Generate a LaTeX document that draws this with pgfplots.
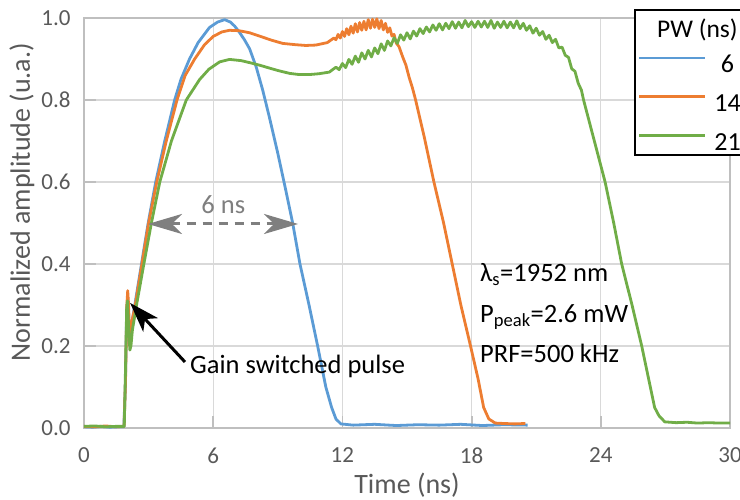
\documentclass[border=0pt]{standalone}
\usepackage{fontspec}
\setmainfont{Carlito}
\usepackage{pgfplots}
\pgfplotsset{compat=1.18}
\usetikzlibrary{arrows.meta}
\definecolor{cblue}{HTML}{5B9BD5}
\definecolor{corange}{HTML}{ED7D31}
\definecolor{cgreen}{HTML}{70AD47}
\definecolor{axgray}{HTML}{BFBFBF}
\definecolor{gridgray}{HTML}{D9D9D9}
\definecolor{txtgray}{HTML}{595959}
\definecolor{anngray}{HTML}{7F7F7F}
\begin{document}
\begin{tikzpicture}
\begin{axis}[
  at={(84bp,72bp)}, anchor=south west,
  scale only axis, width=646bp, height=410bp,
  xmin=0, xmax=30, ymin=0, ymax=1,
  clip=false,
  xtick={0,6,12,18,24,30},
  ytick={0,0.2,0.4,0.6,0.8,1},
  /pgf/number format/assume math mode=true,
  yticklabel style={/pgf/number format/fixed, /pgf/number format/fixed zerofill, /pgf/number format/precision=1, xshift=-10bp},
  tick label style={font=\fontsize{23bp}{26bp}\selectfont, text=txtgray},
  xticklabel style={yshift=-16bp},
  tick align=inside, tick pos=left,
  major tick length=12bp,
  every tick/.style={axgray, line width=1.8bp},
  axis line style={axgray, line width=1.8bp},
  grid=major,
  grid style={gridgray, line width=1.3bp},
  xlabel={Time (ns)}, ylabel={Normalized amplitude (u.a.)},
  every axis x label/.style={at={(axis description cs:0.5,-0.139)}, anchor=center,
    font=\fontsize{28bp}{30bp}\selectfont, text=txtgray},
  every axis y label/.style={at={(axis description cs:-0.096,0.551)}, rotate=90, anchor=center,
    font=\fontsize{28bp}{30bp}\selectfont, text=txtgray},
  legend image code/.code={\draw[#1] (0bp,7.5bp) -- (66bp,7.5bp);},
  legend cell align=center,
  legend style={at={(axis cs:25.73,0.906)}, anchor=north west, draw=none, fill=none,
    inner sep=0pt, outer sep=0pt, row sep=22.5bp, column sep=7.5bp,
    font=\fontsize{26bp}{28bp}\selectfont,
    nodes={inner sep=0pt, text height=15bp, text depth=0pt}},
]
\addplot[cblue, line width=2.8bp, line join=round] coordinates {
(0,0.003)(0.4,0.002)(0.8,0.004)(1.2,0.002)(1.6,0.003)(1.85,0.003)(1.92,0.1)(1.98,0.28)(2.03,0.32)(2.08,0.26)(2.13,0.22)(2.2,0.25)(2.36,0.3)(2.67,0.4)(2.98,0.5)(3.33,0.6)(3.75,0.7)(4.21,0.8)(4.5,0.85)(4.9,0.9)(5.3,0.94)(5.83,0.977)(6.2,0.99)(6.53,0.996)(6.8,0.99)(7.0,0.98)(7.22,0.965)(7.45,0.947)(7.69,0.925)(8.0,0.88)(8.3,0.824)(8.6,0.76)(9.0,0.67)(9.35,0.585)(9.69,0.5)(10.03,0.4)(10.45,0.3)(10.85,0.2)(11.23,0.1)(11.5,0.05)(11.7,0.022)(11.93,0.01)(12.5,0.007)(13.5,0.009)(14.5,0.006)(15.5,0.008)(16.5,0.007)(17.5,0.009)(18.5,0.006)(19.5,0.008)(20.6,0.007)
};
\addlegendentry{6}
\addplot[corange, line width=2.8bp, line join=round] coordinates {
(0,0.004)(0.5,0.003)(1.0,0.005)(1.5,0.003)(1.86,0.004)(1.93,0.12)(1.99,0.3)(2.03,0.335)(2.07,0.3)(2.12,0.22)(2.19,0.25)(2.38,0.3)(2.69,0.4)(3.0,0.5)(3.38,0.6)(3.82,0.7)(4.32,0.8)(4.7,0.86)(5.14,0.9)(5.6,0.935)(6.0,0.955)(6.4,0.966)(6.76,0.97)(7.2,0.969)(7.69,0.964)(8.2,0.955)(8.7,0.946)(9.23,0.938)(9.8,0.935)(10.3,0.933)(10.77,0.934)(11.3,0.94)
(11.6,0.951)(11.7,0.947)(11.8,0.960)(11.9,0.951)(12.0,0.967)(12.1,0.955)(12.2,0.974)(12.3,0.959)(12.4,0.980)(12.5,0.963)(12.6,0.986)(12.7,0.966)(12.8,0.989)(12.9,0.970)(13.0,0.992)(13.1,0.971)(13.2,0.996)(13.3,0.975)(13.4,0.997)(13.5,0.977)(13.6,0.998)(13.7,0.974)(13.8,0.994)(13.9,0.971)(14.0,0.987)(14.1,0.965)(14.2,0.976)(14.3,0.956)(14.4,0.960)(14.5,0.939)
(14.63,0.93)(14.8,0.905)(14.95,0.885)(15.1,0.855)(15.25,0.83)(15.4,0.80)(15.8,0.71)(16.25,0.60)(16.7,0.50)(17.1,0.40)(17.5,0.30)(17.95,0.20)(18.3,0.12)(18.56,0.05)(18.8,0.022)(19.1,0.012)(19.5,0.011)(20.0,0.010)(20.5,0.011)
};
\addlegendentry{14}
\addplot[cgreen, line width=2.8bp, line join=round] coordinates {
(0,0.004)(0.5,0.005)(1.0,0.003)(1.5,0.004)(1.87,0.004)(1.93,0.15)(1.98,0.29)(2.02,0.31)(2.07,0.25)(2.13,0.19)(2.18,0.2)(2.25,0.24)(2.44,0.3)(2.78,0.4)(3.13,0.5)(3.52,0.6)(4.06,0.7)(4.75,0.8)(5.37,0.85)(5.8,0.875)(6.3,0.893)(6.76,0.899)(7.3,0.896)(7.7,0.891)(8.15,0.885)(8.6,0.878)(9.0,0.872)(9.54,0.865)(10.0,0.862)(10.46,0.862)(10.9,0.864)(11.39,0.868)
(11.70,0.880)(11.85,0.874)(12.00,0.889)(12.15,0.879)(12.30,0.899)(12.45,0.887)(12.60,0.907)(12.75,0.892)(12.90,0.915)(13.05,0.900)(13.20,0.921)(13.35,0.905)(13.50,0.927)(13.65,0.913)(13.80,0.937)(13.95,0.921)(14.10,0.944)(14.25,0.932)(14.40,0.952)(14.55,0.938)(14.70,0.959)(14.85,0.946)(15.00,0.964)(15.15,0.949)(15.30,0.968)(15.45,0.956)(15.60,0.974)(15.75,0.962)(15.90,0.978)(16.05,0.966)(16.20,0.983)(16.35,0.970)(16.50,0.986)(16.65,0.971)(16.80,0.987)(16.95,0.974)(17.10,0.991)(17.25,0.975)(17.40,0.990)(17.55,0.976)(17.70,0.994)(17.85,0.979)(18.00,0.991)(18.15,0.977)(18.30,0.992)(18.45,0.978)(18.60,0.992)(18.75,0.977)(18.90,0.994)(19.05,0.975)(19.20,0.990)(19.35,0.977)(19.50,0.992)(19.65,0.976)(19.80,0.990)(19.95,0.976)(20.10,0.993)(20.25,0.974)(20.40,0.987)(20.55,0.970)(20.70,0.981)(20.85,0.963)(21.00,0.975)(21.15,0.958)(21.30,0.967)(21.45,0.948)(21.60,0.958)(21.75,0.940)(21.90,0.948)(22.05,0.927)(22.20,0.929)(22.35,0.909)(22.50,0.904)(22.65,0.876)(22.80,0.870)(22.95,0.841)
(23.1,0.824)(23.2,0.80)(23.7,0.70)(24.2,0.60)(24.6,0.50)(24.97,0.40)(25.45,0.30)(25.9,0.20)(26.3,0.10)(26.5,0.05)(26.7,0.03)(26.97,0.015)(27.5,0.013)(28.0,0.014)(28.5,0.012)(29.0,0.013)(29.5,0.012)(30.0,0.012)
};
\addlegendentry{21}
% annotations
\draw[anngray, line width=3bp, dash pattern=on 9bp off 7bp,
  {Stealth[length=34bp,width=20bp,inset=10bp]}-{Stealth[length=34bp,width=20bp,inset=10bp]}]
  (axis cs:2.97,0.4976) -- (axis cs:9.94,0.4976);
\node[anchor=base, inner sep=0pt, text=anngray, font=\fontsize{26.5bp}{28bp}\selectfont] at (axis cs:6.47,0.524) {6 ns};
\draw[black, line width=3bp, -{Stealth[length=30bp,width=20bp,inset=8bp]}]
  (axis cs:4.69,0.161) -- (axis cs:2.14,0.305);
\node[anchor=west, inner sep=0pt, font=\fontsize{26.5bp}{28bp}\selectfont] at (axis cs:4.92,0.151) {Gain switched pulse};
\node[anchor=base west, inner sep=0pt, font=\fontsize{26.5bp}{28bp}\selectfont] at (axis cs:18.39,0.357) {λ\textsubscript{s}=1952 nm};
\node[anchor=base west, inner sep=0pt, font=\fontsize{26.5bp}{28bp}\selectfont] at (axis cs:18.39,0.257) {P\textsubscript{peak}=2.6 mW};
\node[anchor=base west, inner sep=0pt, font=\fontsize{26.5bp}{28bp}\selectfont] at (axis cs:18.39,0.160) {PRF=500 kHz};
% legend frame and title
\draw[black, line width=1.3bp, fill=white] (axis cs:25.59,1.0195) rectangle (axis cs:31.5,0.666);
\node[anchor=base west, inner sep=0pt, font=\fontsize{25.5bp}{28bp}\selectfont] at (axis cs:26.61,0.953) {PW (ns)};
\end{axis}
\pgfresetboundingbox
\useasboundingbox (0,0) rectangle (740bp,500bp);
\end{tikzpicture}
\end{document}
